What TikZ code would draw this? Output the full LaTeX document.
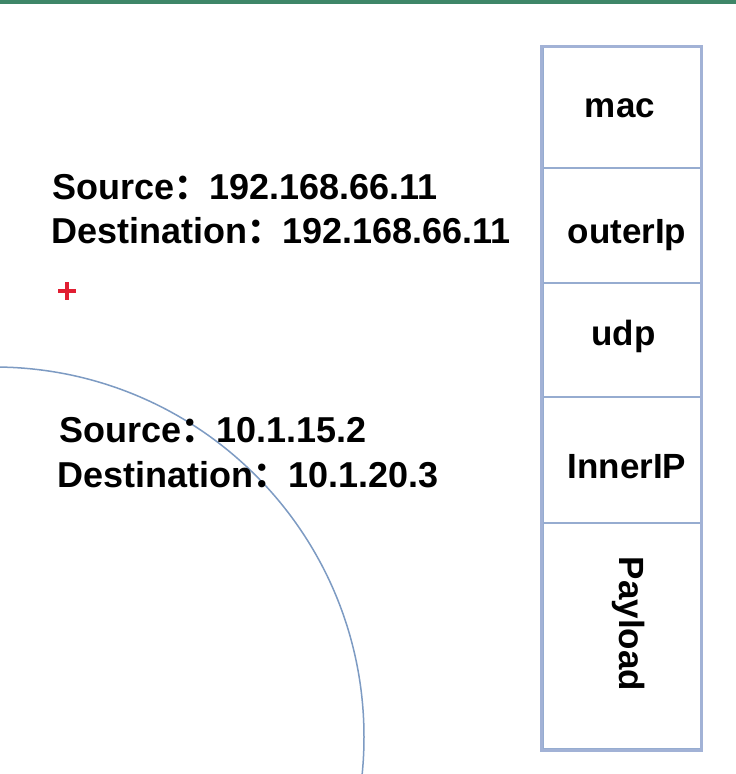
\documentclass[tikz,border=0pt]{standalone}
\usepackage{fontspec}
\setmainfont{Liberation Sans}
\newfontfamily\cjk{Noto Sans CJK SC}
\usetikzlibrary{positioning}

\definecolor{topgreen}{RGB}{62,134,104}
\definecolor{boxblue}{RGB}{162,178,214}
\definecolor{lineblue}{RGB}{150,172,208}
\definecolor{arcblue}{RGB}{125,155,195}
\definecolor{plusred}{RGB}{225,30,50}

\newcommand{\fwcolon}{{\cjk\fontsize{35}{35}\selectfont ：}}

\tikzset{
  addr/.style={anchor=base west, inner sep=0pt, font=\fontsize{36}{43}\selectfont\bfseries},
  cell/.style={draw=lineblue, line width=2pt, minimum width=158pt, inner sep=0pt},
  lbl/.style={anchor=base, inner sep=0pt, font=\fontsize{35}{40}\selectfont\bfseries}
}

\begin{document}
\begin{tikzpicture}[x=1pt,y=-1pt]
\useasboundingbox (0,0) rectangle (736,774);
\fill[white] (0,0) rectangle (736,774);
\fill[topgreen] (0,0) rectangle (736,4);

% big circle, only a quarter of it is seen
\begin{scope}
\clip (0,0) rectangle (736,774);
\draw[arcblue, line width=1.5pt] (-6,737) circle[radius=370];
\end{scope}

% outer header
\node[addr] (src1) at (52,199) {Source\fwcolon192.168.66.11};
\node[addr] (dst1) at (51,243) {Destination\fwcolon192.168.66.11};
\draw[plusred, line width=3.5pt] (58,291) -- (76,291) (67,282) -- (67,300);

% inner header
\node[addr] (src2) at (59,442) {Source\fwcolon10.1.15.2};
\node[addr] (dst2) at (57,487) {Destination\fwcolon10.1.20.3};

% packet stack
\node[cell, minimum height=121pt] (mac) at (621.7,107.5) {};
\node[cell, minimum height=115pt] (outer) at (621.7,225.5) {};
\node[cell, minimum height=114pt] (udp) at (621.7,340) {};
\node[cell, minimum height=126pt] (inner) at (621.7,460) {};
\node[cell, minimum height=226pt] (payload) at (621.7,636) {};
\draw[boxblue, line width=3pt] (mac.north west) rectangle (payload.south east);

\node[lbl] (macl) at (620,117) {mac};
\node[lbl] (outerl) at (627,243) {outerIp};
\node[lbl] (udpl) at (623.5,345) {udp};
\node[lbl] (innerl) at (627,478) {InnerIP};
\node[lbl, rotate=-90] (payloadl) at (619,624) {Payload};

\end{tikzpicture}
\end{document}
